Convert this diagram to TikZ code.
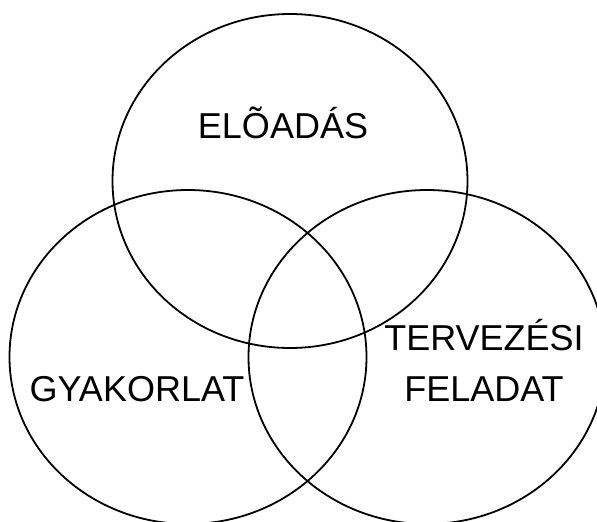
\documentclass[tikz,border=0pt]{standalone}
\usepackage{fontspec}
\setmainfont{Liberation Sans}
\usetikzlibrary{positioning}
\tikzset{
  ring/.style={line width=1.8pt},
  setlabel/.style={font=\fontsize{36}{43}\selectfont, inner sep=0pt, anchor=base}
}
\begin{document}
\begin{tikzpicture}[x=1pt,y=-1pt]
\clip (0,0) rectangle (597,522);
\useasboundingbox (0,0) rectangle (597,522);
% the three sets
\draw[ring] (290,181) ellipse [x radius=177.5pt, y radius=167pt];
\draw[ring] (188,357) ellipse [x radius=178.5pt, y radius=167pt];
\draw[ring] (427,357) ellipse [x radius=178.5pt, y radius=167pt];
% labels
\node[setlabel] (eloadas) at (283,138) {ELÕADÁS};
\node[setlabel] (gyakorlat) at (137,401) {GYAKORLAT};
\node[setlabel] (tervezesi) at (484,350) {TERVEZÉSI};
\node[setlabel] (feladat) at ([yshift=-51pt]tervezesi.base) {FELADAT};
\end{tikzpicture}
\end{document}
